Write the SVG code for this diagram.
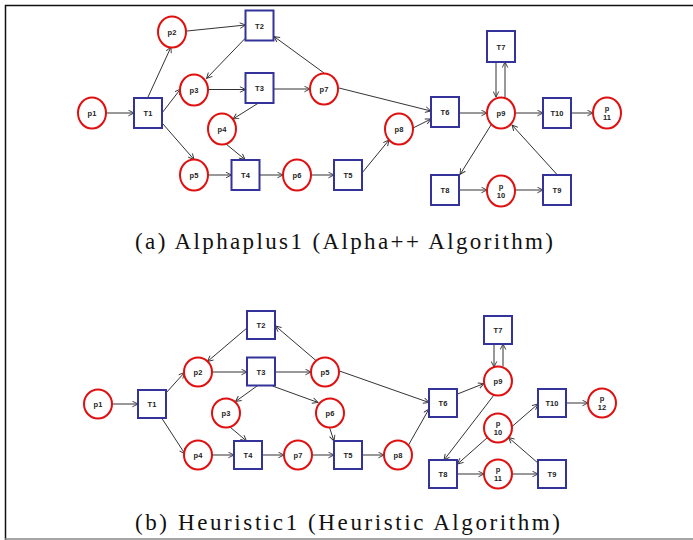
<svg xmlns="http://www.w3.org/2000/svg" width="693" height="540" viewBox="0 0 693 540">
<defs>
<marker id="a" viewBox="0 0 10 10" refX="9" refY="5" markerWidth="7" markerHeight="7" markerUnits="userSpaceOnUse" orient="auto">
<path d="M1,1 L9,5 L1,9" fill="none" stroke="#333" stroke-width="1.3"/>
</marker>
<style>
.p{fill:#fff;stroke:#e01010;stroke-width:2}
.t{fill:#fff;stroke:#333399;stroke-width:2}
.l{font-family:"Liberation Sans",Arial,sans-serif;font-size:7.5px;font-weight:bold;fill:#222;text-anchor:middle}
#edges line{stroke:#333;stroke-width:1;marker-end:url(#a)}
.cap{font-family:"Liberation Serif","Noto Serif",serif;font-size:23px;fill:#111}
</style>
</defs>
<rect width="693" height="540" fill="#fff"/>
<path d="M5.5,540 V5.5 H693" fill="none" stroke="#111" stroke-width="1.5"/>
<line x1="5" y1="539" x2="693" y2="539" stroke="#888" stroke-width="1.5"/>

<g id="edges">
<!-- top -->
<line x1="106" y1="113" x2="134" y2="113"/>
<line x1="148" y1="97" x2="171" y2="47"/>
<line x1="162" y1="113" x2="180.5" y2="89"/>
<line x1="163" y1="124" x2="194" y2="159.5"/>
<line x1="187" y1="31" x2="245.5" y2="25"/>
<line x1="245.5" y1="38" x2="206.5" y2="78.5"/>
<line x1="208" y1="89.5" x2="245.5" y2="89.5"/>
<line x1="273.5" y1="89" x2="310" y2="89"/>
<line x1="258.5" y1="103" x2="233" y2="119"/>
<line x1="226" y1="144" x2="245" y2="159.5"/>
<line x1="324" y1="73" x2="274" y2="36.5"/>
<line x1="339" y1="88" x2="431" y2="111"/>
<line x1="208" y1="175" x2="231.5" y2="175"/>
<line x1="259.5" y1="175" x2="283" y2="175"/>
<line x1="311" y1="175" x2="334" y2="175"/>
<line x1="362" y1="173" x2="389" y2="140"/>
<line x1="413" y1="128" x2="431" y2="119"/>
<line x1="459" y1="113" x2="487" y2="113"/>
<line x1="496" y1="62" x2="496" y2="97"/>
<line x1="505" y1="97.5" x2="505" y2="62"/>
<line x1="515" y1="113" x2="543" y2="113"/>
<line x1="571" y1="113" x2="593" y2="113"/>
<line x1="491" y1="125" x2="460" y2="174.5"/>
<line x1="459" y1="190" x2="487" y2="190"/>
<line x1="515" y1="190" x2="543" y2="190"/>
<line x1="557" y1="174.5" x2="512" y2="125"/>
<!-- bottom -->
<line x1="112" y1="404" x2="138" y2="404"/>
<line x1="166" y1="393" x2="184.5" y2="372.5"/>
<line x1="162" y1="418.5" x2="185" y2="454"/>
<line x1="247.5" y1="327.5" x2="207.5" y2="361.5"/>
<line x1="316.5" y1="361" x2="275.5" y2="326"/>
<line x1="212" y1="372" x2="247" y2="372"/>
<line x1="275" y1="372" x2="311" y2="372"/>
<line x1="257" y1="386" x2="235.5" y2="401.5"/>
<line x1="272.5" y1="386" x2="318" y2="402.5"/>
<line x1="230" y1="427" x2="246.5" y2="441"/>
<line x1="329.5" y1="427.5" x2="334" y2="441"/>
<line x1="212" y1="455" x2="234" y2="455"/>
<line x1="262" y1="455" x2="284" y2="455"/>
<line x1="312" y1="455" x2="334" y2="455"/>
<line x1="362" y1="455" x2="384" y2="455"/>
<line x1="339.5" y1="371" x2="429" y2="402.5"/>
<line x1="408.5" y1="445" x2="429" y2="409"/>
<line x1="457.5" y1="394" x2="484" y2="383.5"/>
<line x1="494" y1="344" x2="494" y2="367"/>
<line x1="503" y1="366.5" x2="503" y2="344"/>
<line x1="494" y1="395" x2="444" y2="460"/>
<line x1="487.5" y1="437.5" x2="457.5" y2="464"/>
<line x1="511.5" y1="427" x2="538" y2="404"/>
<line x1="566" y1="403" x2="588" y2="403"/>
<line x1="457" y1="474" x2="484" y2="474"/>
<line x1="512" y1="474" x2="538" y2="474"/>
<line x1="538.5" y1="463.5" x2="508.5" y2="437.5"/>
</g>

<!-- top nodes -->
<g id="a_p1"><ellipse class="p" cx="92" cy="113" rx="14" ry="15.5"/><text class="l" x="92" y="116">p1</text></g>
<g id="a_T1"><rect class="t" x="134" y="98" width="28" height="30"/><text class="l" x="148" y="116">T1</text></g>
<g id="a_p2"><ellipse class="p" cx="172" cy="32" rx="14" ry="15.5"/><text class="l" x="172" y="35">p2</text></g>
<g id="a_T2"><rect class="t" x="245.5" y="10.5" width="28" height="30"/><text class="l" x="259.5" y="28.5">T2</text></g>
<g id="a_p3"><ellipse class="p" cx="194" cy="90" rx="14" ry="15.5"/><text class="l" x="194" y="93">p3</text></g>
<g id="a_T3"><rect class="t" x="245.5" y="73" width="28" height="30"/><text class="l" x="259.5" y="91">T3</text></g>
<g id="a_p7"><ellipse class="p" cx="324" cy="89" rx="14" ry="15.5"/><text class="l" x="324" y="92">p7</text></g>
<g id="a_p4"><ellipse class="p" cx="222" cy="129" rx="14" ry="15.5"/><text class="l" x="222" y="132">p4</text></g>
<g id="a_p5"><ellipse class="p" cx="194" cy="175" rx="14" ry="15.5"/><text class="l" x="194" y="178">p5</text></g>
<g id="a_T4"><rect class="t" x="231.5" y="160" width="28" height="30"/><text class="l" x="245.5" y="178">T4</text></g>
<g id="a_p6"><ellipse class="p" cx="297" cy="175" rx="14" ry="15.5"/><text class="l" x="297" y="178">p6</text></g>
<g id="a_T5"><rect class="t" x="334" y="160" width="28" height="30"/><text class="l" x="348" y="178">T5</text></g>
<g id="a_p8"><ellipse class="p" cx="399" cy="129" rx="14" ry="15.5"/><text class="l" x="399" y="132">p8</text></g>
<g id="a_T6"><rect class="t" x="431" y="97" width="28" height="30"/><text class="l" x="445" y="115">T6</text></g>
<g id="a_T7"><rect class="t" x="487" y="31" width="28" height="31"/><text class="l" x="501" y="49.5">T7</text></g>
<g id="a_p9"><ellipse class="p" cx="501" cy="113" rx="14" ry="15.5"/><text class="l" x="501" y="116">p9</text></g>
<g id="a_T10"><rect class="t" x="543" y="98" width="28" height="30"/><text class="l" x="557" y="116">T10</text></g>
<g id="a_p11"><ellipse class="p" cx="607" cy="113" rx="14" ry="15.5"/><text class="l" x="607" y="111">p</text><text class="l" x="607" y="120">11</text></g>
<g id="a_T8"><rect class="t" x="431" y="175" width="28" height="30"/><text class="l" x="445" y="193">T8</text></g>
<g id="a_p10"><ellipse class="p" cx="501" cy="191" rx="14" ry="15.5"/><text class="l" x="501" y="189">p</text><text class="l" x="501" y="198">10</text></g>
<g id="a_T9"><rect class="t" x="543" y="175" width="28" height="30"/><text class="l" x="557" y="193">T9</text></g>

<!-- bottom nodes -->
<g id="b_p1"><ellipse class="p" cx="98" cy="404" rx="14" ry="14.5"/><text class="l" x="98" y="407">p1</text></g>
<g id="b_T1"><rect class="t" x="138" y="390" width="28" height="28"/><text class="l" x="152" y="407">T1</text></g>
<g id="b_T2"><rect class="t" x="247" y="311" width="28" height="28"/><text class="l" x="261" y="328">T2</text></g>
<g id="b_p2"><ellipse class="p" cx="198" cy="372" rx="14" ry="14.5"/><text class="l" x="198" y="375">p2</text></g>
<g id="b_T3"><rect class="t" x="247" y="357.5" width="28" height="28"/><text class="l" x="261" y="374.5">T3</text></g>
<g id="b_p5"><ellipse class="p" cx="325" cy="372" rx="14" ry="14.5"/><text class="l" x="325" y="375">p5</text></g>
<g id="b_p3"><ellipse class="p" cx="226" cy="413" rx="14" ry="14.5"/><text class="l" x="226" y="416">p3</text></g>
<g id="b_p6"><ellipse class="p" cx="330" cy="413" rx="14" ry="14.5"/><text class="l" x="330" y="416">p6</text></g>
<g id="b_p4"><ellipse class="p" cx="198" cy="455" rx="14" ry="14.5"/><text class="l" x="198" y="458">p4</text></g>
<g id="b_T4"><rect class="t" x="234" y="441" width="28" height="28"/><text class="l" x="248" y="458">T4</text></g>
<g id="b_p7"><ellipse class="p" cx="298" cy="455" rx="14" ry="14.5"/><text class="l" x="298" y="458">p7</text></g>
<g id="b_T5"><rect class="t" x="334" y="441" width="28" height="28"/><text class="l" x="348" y="458">T5</text></g>
<g id="b_p8"><ellipse class="p" cx="398" cy="455" rx="14" ry="14.5"/><text class="l" x="398" y="458">p8</text></g>
<g id="b_T6"><rect class="t" x="429" y="389" width="28" height="28"/><text class="l" x="443" y="406">T6</text></g>
<g id="b_T7"><rect class="t" x="484" y="316" width="28" height="28"/><text class="l" x="498" y="333">T7</text></g>
<g id="b_p9"><ellipse class="p" cx="498" cy="381" rx="14" ry="14.5"/><text class="l" x="498" y="384">p9</text></g>
<g id="b_T10"><rect class="t" x="538" y="389" width="28" height="28"/><text class="l" x="552" y="406">T10</text></g>
<g id="b_p12"><ellipse class="p" cx="602" cy="403" rx="14" ry="14.5"/><text class="l" x="602" y="401">p</text><text class="l" x="602" y="410">12</text></g>
<g id="b_p10"><ellipse class="p" cx="498" cy="428" rx="14" ry="14.5"/><text class="l" x="498" y="426">p</text><text class="l" x="498" y="435">10</text></g>
<g id="b_T8"><rect class="t" x="429" y="460" width="28" height="28"/><text class="l" x="443" y="477">T8</text></g>
<g id="b_p11"><ellipse class="p" cx="498" cy="474" rx="14" ry="14.5"/><text class="l" x="498" y="472">p</text><text class="l" x="498" y="481">11</text></g>
<g id="b_T9"><rect class="t" x="538" y="460" width="28" height="28"/><text class="l" x="552" y="477">T9</text></g>

<text class="cap" x="135" y="249" textLength="418" lengthAdjust="spacing">(a) Alphaplus1 (Alpha++ Algorithm)</text>
<text class="cap" x="135" y="530" textLength="425" lengthAdjust="spacing">(b) Heuristic1 (Heuristic Algorithm)</text>
</svg>
